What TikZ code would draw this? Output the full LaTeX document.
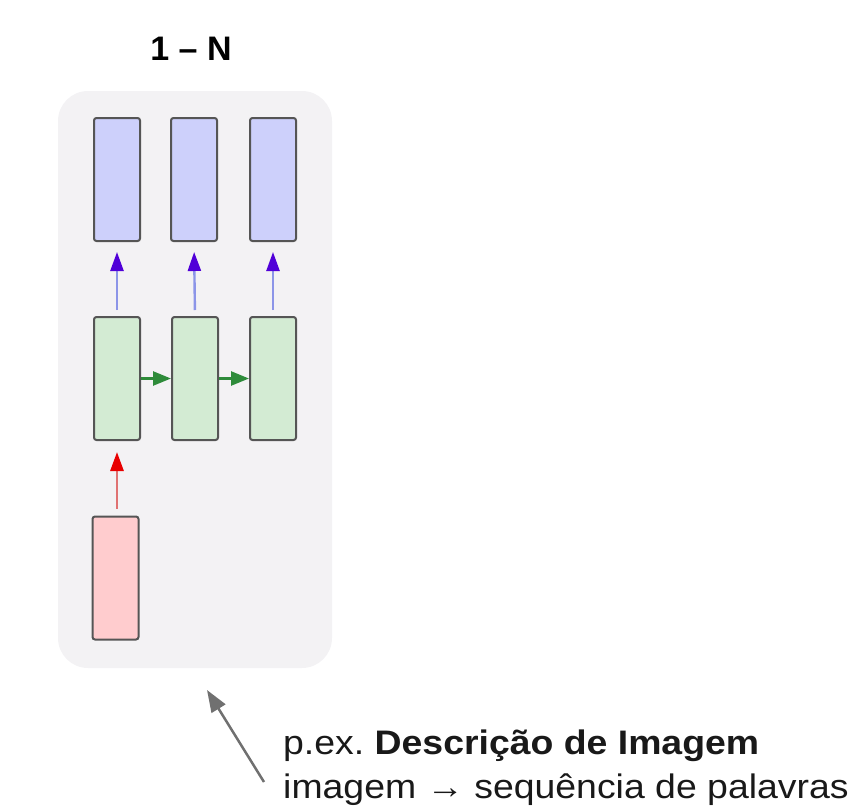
\documentclass[tikz,border=0pt]{standalone}
\usepackage{fontspec}
\setmainfont{Liberation Sans}
\usetikzlibrary{arrows.meta}
\frenchspacing
\definecolor{bgc}{HTML}{F3F2F4}
\definecolor{bluefill}{HTML}{CDD0FB}
\definecolor{greenfill}{HTML}{D3EBD3}
\definecolor{redfill}{HTML}{FFCCCE}
\definecolor{boxline}{HTML}{555555}
\definecolor{blueline}{HTML}{8C95E8}
\definecolor{bluehead}{HTML}{5000D8}
\definecolor{greenline}{HTML}{2E8B3A}
\definecolor{redline}{HTML}{E07272}
\definecolor{redhead}{HTML}{E80000}
\definecolor{grayarrow}{HTML}{707070}
\tikzset{
  cell/.style={draw=boxline, line width=2pt, rounded corners=2.5pt,
    minimum width=46pt, minimum height=123pt, inner sep=0pt},
  outcell/.style={cell, fill=bluefill},
  hidcell/.style={cell, fill=greenfill},
  incell/.style={cell, fill=redfill},
  upblue/.style={draw=blueline, line width=2.4pt,
    -{Triangle[length=19pt,width=13pt,color=bluehead,fill=bluehead]}},
  rightgreen/.style={draw=greenline, line width=2.5pt,
    -{Triangle[length=18pt,width=14pt,color=greenline,fill=greenline]}},
  upred/.style={draw=redline, line width=2.8pt,
    -{Triangle[length=19pt,width=13pt,color=redhead,fill=redhead]}},
  pointer/.style={draw=grayarrow, line width=2.5pt,
    -{Triangle[length=22pt,width=16pt,color=grayarrow,fill=grayarrow]}},
  lbl/.style={inner sep=0pt, font=\fontsize{34}{40}\selectfont, text=black!90}
}
\begin{document}
\begin{tikzpicture}[x=1pt,y=-1pt]
\useasboundingbox (0,0) rectangle (864,806);
\fill[bgc, rounded corners=30pt] (58,91) rectangle (332,668);
\node[anchor=base, inner sep=0pt, font=\fontsize{34}{40}\selectfont\bfseries] (title) at (191,60) {1 – N};
% output row
\node[outcell] (b1) at (117,179.5) {};
\node[outcell] (b2) at (194,179.5) {};
\node[outcell] (b3) at (273,179.5) {};
% hidden row
\node[hidcell] (g1) at (117,378.5) {};
\node[hidcell] (g2) at (195,378.5) {};
\node[hidcell] (g3) at (273,378.5) {};
% input
\node[incell] (r1) at (115.5,578) {};
% arrows
\foreach \i in {1,2,3} {
  \draw[upblue, shorten <=6pt, shorten >=10pt] (g\i.north) -- (b\i.south);
}
\draw[rightgreen] (g1.east) -- (g2.west);
\draw[rightgreen] (g2.east) -- (g3.west);
\draw[upred, shorten <=7pt, shorten >=11pt] (r1.north -| g1.south) -- (g1.south);
% caption
\node[lbl, anchor=base west] (cap1) at (283,754) {\scalebox{1.1}[1]{p.ex. \textbf{Descrição de Imagem}}};
\node[lbl, anchor=base west] (cap2) at (283,798) {\scalebox{1.1}[1]{imagem → sequência de palavras}};
\coordinate (ptail) at (264,782);
\coordinate (ptip) at (207,690);
\draw[pointer] (ptail) -- (ptip);
\end{tikzpicture}
\end{document}
